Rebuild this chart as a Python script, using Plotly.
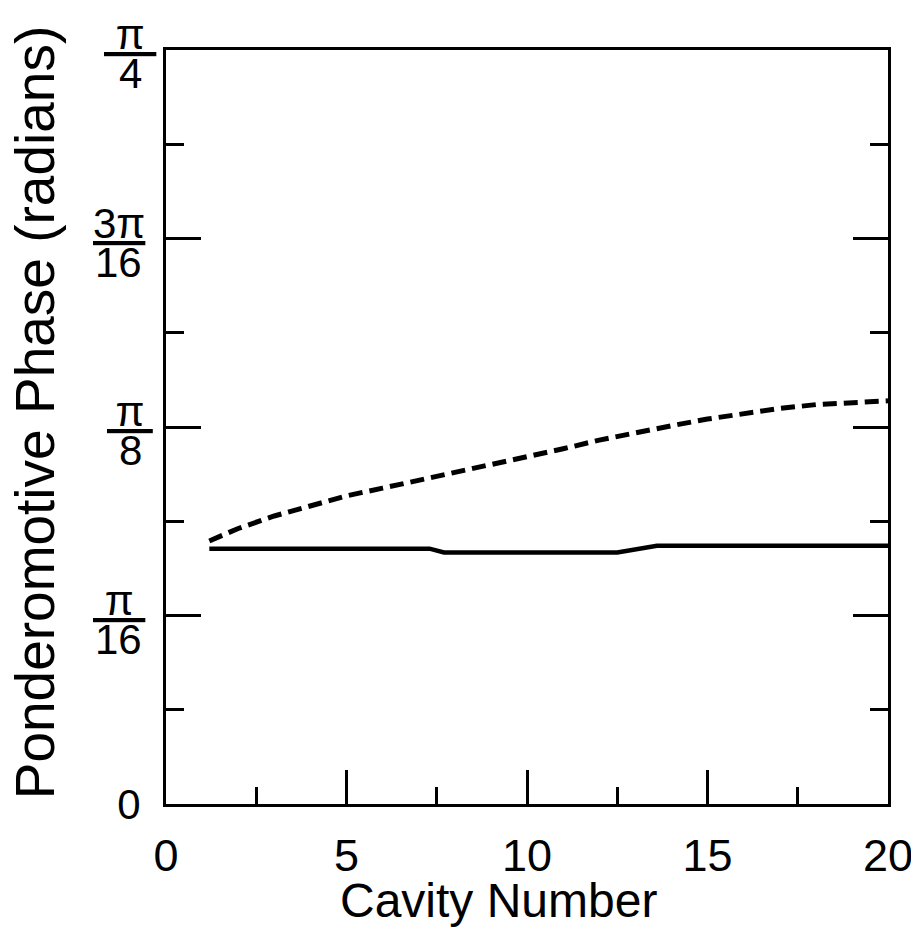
import numpy as np
import plotly.graph_objects as go

# cavity number vs ponderomotive phase (radians)
cavity_solid = [1.2, 7.3, 7.7, 12.5, 13.6, 20]
phase_solid = [0.266, 0.266, 0.262, 0.262, 0.269, 0.269]

cavity_dashed = [1.2, 2, 3, 4, 5, 6, 7, 8, 9, 10, 11, 12, 13, 14, 15, 16, 17, 18, 19, 20]
phase_dashed = [0.274, 0.287, 0.300, 0.311, 0.321, 0.329, 0.337, 0.345, 0.353, 0.361,
                0.370, 0.379, 0.387, 0.394, 0.401, 0.407, 0.412, 0.416, 0.418, 0.420]

ytick_vals = [0, np.pi / 16, np.pi / 8, 3 * np.pi / 16, np.pi / 4]
ytick_text = ["0", "", "", "", ""]   # fractions are drawn separately below
frac_vals = [np.pi / 16, np.pi / 8, 3 * np.pi / 16, np.pi / 4]
frac_num = ["\u00a0π\u00a0", "\u2009π\u2009", "3π", "\u00a0π\u00a0"]
frac_den = ["16", "8", "16", "4"]
xtick_vals = [0, 5, 10, 15, 20]

fig = go.Figure()
fig.add_trace(go.Scatter(x=cavity_solid, y=phase_solid, mode="lines",
                         line=dict(color="black", width=4.5)))
fig.add_trace(go.Scatter(x=cavity_dashed, y=phase_dashed, mode="lines",
                         line=dict(color="black", width=5, dash="14px,7px")))

fig.update_layout(
    width=919, height=939,
    plot_bgcolor="white", paper_bgcolor="white",
    showlegend=False,
    margin=dict(l=158, r=39, t=42, b=143),
    font=dict(family="Liberation Sans, Arial, sans-serif", color="black"),
)
fig.update_xaxes(
    range=[0, 20], tickvals=xtick_vals, automargin=False,
    ticks="inside", ticklen=34, tickwidth=2.5, tickcolor="black",
    minor=dict(dtick=2.5, tick0=0, ticks="inside", ticklen=17, tickwidth=2.5, tickcolor="black"),
    showline=True, linewidth=3, linecolor="black", mirror=True,
    showgrid=False, zeroline=False,
    tickfont=dict(size=45), ticklabelstandoff=10, ticklabeloverflow="allow",
)
fig.update_yaxes(
    range=[0, np.pi / 4], tickvals=ytick_vals, ticktext=ytick_text, automargin=False,
    ticks="inside", ticklen=35, tickwidth=2.5, tickcolor="black",
    minor=dict(dtick=np.pi / 32, tick0=0, ticks="inside", ticklen=18, tickwidth=2.5, tickcolor="black"),
    showline=True, linewidth=3, linecolor="black", mirror="ticks",
    showgrid=False, zeroline=False,
    tickfont=dict(size=42), ticklabelstandoff=14, ticklabeloverflow="allow",
)

# stacked fraction tick labels: numerator (underlined = fraction bar) over denominator
fsize = 42
gap = 24
for v, num, den in zip(frac_vals, frac_num, frac_den):
    cx = -(gap + 0.556 * fsize * len(den) / 2)
    fig.add_annotation(text="<u>" + num + "</u>", xref="paper", yref="y", x=0, y=v,
                       xanchor="center", yanchor="bottom", xshift=cx, yshift=-10,
                       showarrow=False, font=dict(size=fsize))
    fig.add_annotation(text=den, xref="paper", yref="y", x=0, y=v,
                       xanchor="center", yanchor="top", xshift=cx, yshift=2,
                       showarrow=False, font=dict(size=fsize))

# axis titles as annotations so they sit where the original put them
fig.add_annotation(text="Cavity Number", xref="paper", yref="paper", x=0.461, y=-0.128,
                   xanchor="center", yanchor="middle", showarrow=False, font=dict(size=48))
fig.add_annotation(text="Ponderomotive Phase (radians)", xref="paper", yref="paper",
                   x=-0.182, y=0.519, xanchor="center", yanchor="middle", textangle=-90,
                   showarrow=False, font=dict(size=55))

fig.write_html("out.html")
